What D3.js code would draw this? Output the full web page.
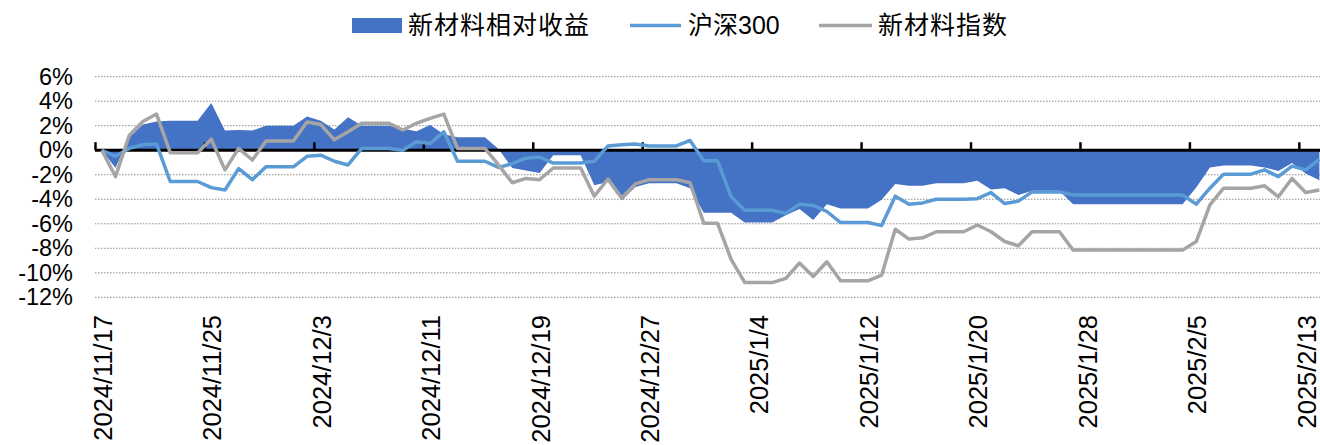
<!DOCTYPE html>
<html>
<head>
<meta charset="utf-8">
<script src="https://cdn.jsdelivr.net/npm/d3@7"></script>
<style>
  body { margin: 0; background: #fff; }
  svg { display: block; }
</style>
</head>
<body>
<svg id="chart" width="1320" height="445"></svg>
<script>
// Daily values (weekends and holidays carry the last close), in %
var start_date = "2024-11-17";
var end_date = "2025-02-15"; // exclusive

var legend_labels = ["新材料相对收益", "沪深300", "新材料指数"];

var tick_labels = ["2024/11/17", "2024/11/25", "2024/12/3", "2024/12/11", "2024/12/19", "2024/12/27",
                   "2025/1/4", "2025/1/12", "2025/1/20", "2025/1/28", "2025/2/5", "2025/2/13"];

var y_ticks = [6, 4, 2, 0, -2, -4, -6, -8, -10, -12];

var relative = [0, -1.45, 1.05, 2.1, 2.35, 2.4, 2.4, 2.4, 3.85, 1.6,
                1.65, 1.6, 2.0, 2.0, 2.0, 2.75, 2.4, 1.7, 2.7, 2.0,
                2.0, 2.0, 1.75, 1.55, 2.05, 1.3, 1.05, 1.05, 1.05, 0.1,
                -1.45, -1.65, -1.85, -0.4, -0.4, -0.4, -2.85, -2.6, -4.1, -3.0,
                -2.7, -2.7, -2.7, -3.1, -5.1, -5.1, -5.1, -5.9, -5.9, -5.9,
                -5.3, -4.8, -5.7, -4.4, -4.75, -4.75, -4.75, -4.05, -2.75, -2.9,
                -2.9, -2.7, -2.7, -2.7, -2.5, -3.2, -3.1, -3.65, -3.3, -3.3,
                -3.3, -4.4, -4.4, -4.4, -4.4, -4.4, -4.4, -4.4, -4.4, -4.4,
                -3.05, -1.4, -1.25, -1.25, -1.25, -1.4, -1.7, -1.05, -1.9, -2.45];

var hs300 = [0, -0.5, 0.15, 0.45, 0.5, -2.55, -2.55, -2.55, -3.05, -3.25,
             -1.5, -2.4, -1.35, -1.35, -1.35, -0.5, -0.4, -0.9, -1.2, 0.15,
             0.15, 0.15, 0.0, 0.7, 0.55, 1.5, -0.9, -0.9, -0.9, -1.4,
             -1.1, -0.65, -0.55, -1.05, -1.05, -1.05, -0.9, 0.35, 0.45, 0.5,
             0.35, 0.35, 0.35, 0.8, -0.85, -0.85, -3.8, -4.9, -4.9, -4.9,
             -5.15, -4.4, -4.5, -5.0, -5.9, -5.9, -5.9, -6.15, -3.75, -4.4,
             -4.3, -4.0, -4.0, -4.0, -3.95, -3.45, -4.35, -4.15, -3.4, -3.4,
             -3.4, -3.65, -3.65, -3.65, -3.65, -3.65, -3.65, -3.65, -3.65, -3.65,
             -4.4, -3.1, -1.95, -1.95, -1.95, -1.6, -2.15, -1.3, -1.6, -0.75];

var new_material = [0, -2.15, 1.2, 2.35, 2.95, -0.2, -0.2, -0.2, 0.9, -1.6,
                    0.15, -0.8, 0.75, 0.75, 0.75, 2.3, 2.1, 0.85, 1.5, 2.2,
                    2.2, 2.2, 1.65, 2.2, 2.6, 2.95, 0.15, 0.15, 0.15, -1.2,
                    -2.65, -2.3, -2.4, -1.45, -1.45, -1.45, -3.75, -2.35, -3.9, -2.75,
                    -2.4, -2.4, -2.4, -2.65, -5.95, -5.95, -8.9, -10.8, -10.8, -10.8,
                    -10.45, -9.2, -10.3, -9.1, -10.65, -10.65, -10.65, -10.2, -6.45, -7.25,
                    -7.15, -6.65, -6.65, -6.65, -6.1, -6.65, -7.45, -7.8, -6.65, -6.65,
                    -6.65, -8.15, -8.15, -8.15, -8.15, -8.15, -8.15, -8.15, -8.15, -8.15,
                    -7.45, -4.45, -3.1, -3.1, -3.1, -2.9, -3.8, -2.3, -3.45, -3.25];

var colors = {area: "#4472C4", hs: "#5B9BD5", idx: "#A5A5A5"};

var svg = d3.select("#chart");

var t0 = new Date(start_date + "T00:00:00Z");
var t1 = new Date(end_date + "T00:00:00Z");
var days = d3.utcDay.range(t0, t1);

// category axis: each day is one slot, points at slot centres
var x = d3.scaleUtc().domain([t0, t1]).range([95, 95 + days.length * 13.68]);
var xc = function(d) { return x(d3.utcHour.offset(d, 12)); };
var y = d3.scaleLinear().domain([-12, 6]).range([297.3, 76.7]);

var rows = days.map(function(d, i) {
    return {date: d, rel: relative[i], hs: hs300[i], idx: new_material[i]};
});

// gridlines
svg.append("g")
    .selectAll("line")
    .data(y_ticks.filter(function(v) { return v !== 0; }))
    .enter()
    .append("line")
    .attr("x1", 95)
    .attr("x2", 1320)
    .attr("y1", function(v) { return y(v); })
    .attr("y2", function(v) { return y(v); })
    .attr("stroke", "#8c8c8c")
    .attr("stroke-width", 1)
    .attr("stroke-dasharray", "1.5,1.5");

// y labels
var y_axis = d3.axisLeft(y).tickValues(y_ticks).tickSize(0).tickPadding(0)
    .tickFormat(function(v) { return v + "%"; });
svg.append("g")
    .attr("transform", "translate(73,0)")
    .call(y_axis)
    .call(function(g) { g.select(".domain").remove(); })
    .selectAll("text")
    .attr("font-family", "'Liberation Sans', Arial, sans-serif")
    .attr("font-size", "23.5px")
    .attr("fill", "#000");

// relative return area
svg.append("path")
    .datum(rows)
    .attr("fill", colors.area)
    .attr("d", d3.area()
        .x(function(d) { return xc(d.date); })
        .y0(y(0))
        .y1(function(d) { return y(d.rel); }));

// zero axis with ticks every 8 days
var tick_dates = days.filter(function(d, i) { return i % 8 === 0; });
var x_axis = d3.axisTop(x).tickValues(tick_dates).tickSize(8).tickFormat("");
svg.append("g")
    .attr("transform", "translate(0," + y(0) + ")")
    .call(x_axis)
    .call(function(g) {
        g.select(".domain").attr("stroke", "#000").attr("stroke-width", 3)
            .attr("d", "M95,0H1320");
        g.selectAll(".tick line").attr("stroke", "#000").attr("stroke-width", 2.5);
    });

// rotated date labels
svg.append("g")
    .selectAll("text")
    .data(tick_labels)
    .enter()
    .append("text")
    .attr("transform", function(t, i) {
        return "translate(" + (xc(tick_dates[i]) + 10) + ",315) rotate(-90)";
    })
    .attr("text-anchor", "end")
    .attr("font-family", "'Liberation Sans', Arial, sans-serif")
    .attr("font-size", "25.5px")
    .attr("fill", "#000")
    .text(function(t) { return t; });

// lines
var line_hs = d3.line()
    .x(function(d) { return xc(d.date); })
    .y(function(d) { return y(d.hs); });
var line_idx = d3.line()
    .x(function(d) { return xc(d.date); })
    .y(function(d) { return y(d.idx); });

svg.append("path")
    .datum(rows)
    .attr("fill", "none")
    .attr("stroke", colors.hs)
    .attr("stroke-width", 3.5)
    .attr("stroke-linejoin", "round")
    .attr("d", line_hs);

svg.append("path")
    .datum(rows)
    .attr("fill", "none")
    .attr("stroke", colors.idx)
    .attr("stroke-width", 3.5)
    .attr("stroke-linejoin", "round")
    .attr("d", line_idx);

// legend
var legend = svg.append("g")
    .attr("font-family", "'Liberation Sans', 'Noto Sans CJK SC', sans-serif")
    .attr("font-size", "25px")
    .attr("fill", "#000");

legend.append("rect")
    .attr("x", 352).attr("y", 18).attr("width", 50).attr("height", 15)
    .attr("fill", colors.area);
legend.append("text").attr("x", 408).attr("y", 34).attr("letter-spacing", "1px").text(legend_labels[0]);

legend.append("line")
    .attr("x1", 630).attr("x2", 681).attr("y1", 25.5).attr("y2", 25.5)
    .attr("stroke", colors.hs).attr("stroke-width", 3.5);
legend.append("text").attr("x", 688).attr("y", 34).text(legend_labels[1]);

legend.append("line")
    .attr("x1", 819).attr("x2", 872).attr("y1", 25.5).attr("y2", 25.5)
    .attr("stroke", colors.idx).attr("stroke-width", 3.5);
legend.append("text").attr("x", 878).attr("y", 34).attr("letter-spacing", "1px").text(legend_labels[2]);
</script>
</body>
</html>
